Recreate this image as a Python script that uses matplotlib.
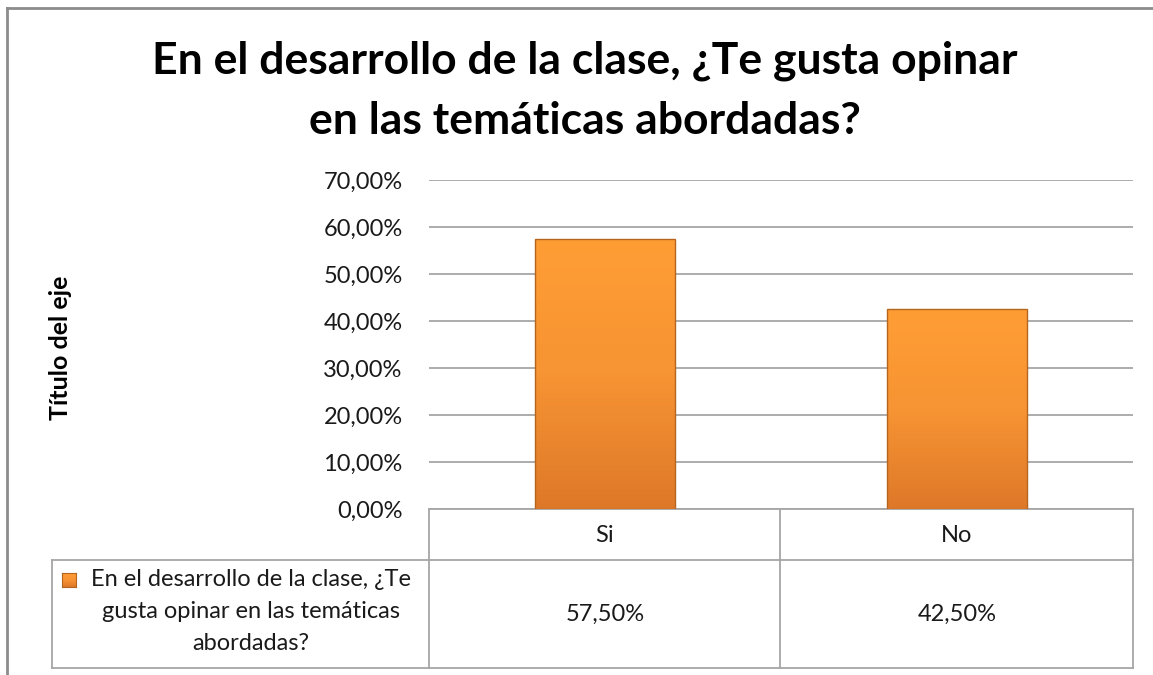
import numpy as np
import matplotlib.pyplot as plt
from matplotlib.colors import LinearSegmentedColormap
from matplotlib.transforms import blended_transform_factory

categories = ["Si", "No"]
values = [57.5, 42.5]
series_lines = ["En el desarrollo de la clase, ¿Te", "gusta opinar en las temáticas", "abordadas?"]
yticks = [0, 10, 20, 30, 40, 50, 60, 70]
title = "En el desarrollo de la clase, ¿Te gusta opinar\nen las temáticas abordadas?"
ylabel = "Título del eje"

W, H = 1153, 675
plt.rcParams['font.family'] = ['Lato', 'DejaVu Sans']
grid_col = '#a6a6a6'
txt_col = '#1a1a1a'
fs = 17

def pct(v):
    return "{:.2f}%".format(v).replace('.', ',')

def fx(px):
    return px / W

def fy(py):
    return 1 - py / H

fig = plt.figure(figsize=(W / 100, H / 100), dpi=100)
ax = fig.add_axes([fx(429), fy(509), fx(1133) - fx(429), fy(180) - fy(509)])

bars = ax.bar(range(len(categories)), values, width=0.4, color='#f28e2f',
              edgecolor='#b5651d', linewidth=1.0, zorder=3)

# orange gradient, light at the top, darker at the bottom
cmap = LinearSegmentedColormap.from_list('og', ['#ff9d35', '#f79433', '#de7829'])
grad = np.linspace(0, 1, 256).reshape(-1, 1)
for b in bars:
    x0, y0 = b.get_x(), b.get_y()
    im = ax.imshow(1 - grad, cmap=cmap, aspect='auto', zorder=3.5, origin='lower',
                   extent=[x0, x0 + b.get_width(), y0, y0 + b.get_height()])
    im.set_clip_path(b)
    b.set_facecolor('none')
    b.set_zorder(4)

ax.set_xlim(-0.5, len(categories) - 0.5)
ax.set_ylim(0, 70)
ax.set_yticks(yticks)
ax.set_yticklabels([pct(t) for t in yticks], fontsize=fs, color=txt_col)
ax.tick_params(axis='y', length=0, pad=19)
ax.set_xticks([])
ax.yaxis.grid(True, color=grid_col, linewidth=1.3, zorder=0)
for s in ['top', 'right', 'left']:
    ax.spines[s].set_visible(False)
ax.spines['bottom'].set_color(grid_col)
ax.spines['bottom'].set_linewidth(1.3)

fig.text(fx(585), fy(91), title, ha='center', va='center', fontsize=32,
         fontweight='bold', color='black', linespacing=1.6)
fig.text(fx(60), fy(348), ylabel, rotation=90, ha='center', va='center',
         fontsize=18, fontweight='bold', color='black')

# data table under the axis
def hline(y, x0, x1):
    fig.add_artist(plt.Line2D([fx(x0), fx(x1)], [fy(y), fy(y)], color=grid_col, lw=1.3))

def vline(x, y0, y1):
    fig.add_artist(plt.Line2D([fx(x), fx(x)], [fy(y0), fy(y1)], color=grid_col, lw=1.3))

hline(560, 52, 1133)
hline(668, 52, 1133)
vline(429, 509, 668)
vline(780, 509, 668)
vline(1133, 509, 668)
vline(52, 560, 668)

tr = blended_transform_factory(ax.transData, fig.transFigure)
for i, (c, v) in enumerate(zip(categories, values)):
    fig.text(i, fy(535), c, transform=tr, ha='center', va='center', fontsize=fs, color=txt_col)
    fig.text(i, fy(614), pct(v), transform=tr, ha='center', va='center', fontsize=fs, color=txt_col)

for j, line in enumerate(series_lines):
    fig.text(fx(251), fy(580 + 31.5 * j), line, ha='center', va='center',
             fontsize=fs, color=txt_col)
key = fig.add_axes([fx(62), fy(587), fx(14), fx(14) * W / H])
key.imshow(grad, cmap=cmap, aspect='auto')
key.set_xticks([])
key.set_yticks([])
for s in key.spines.values():
    s.set_color('#b5651d')

# outer chart border
fig.add_artist(plt.Line2D([fx(7), fx(7)], [fy(8), 0], color='#8c8c8c', lw=2))
fig.add_artist(plt.Line2D([fx(7), 1], [fy(8), fy(8)], color='#8c8c8c', lw=2))

fig.savefig('out.png', dpi=100)
